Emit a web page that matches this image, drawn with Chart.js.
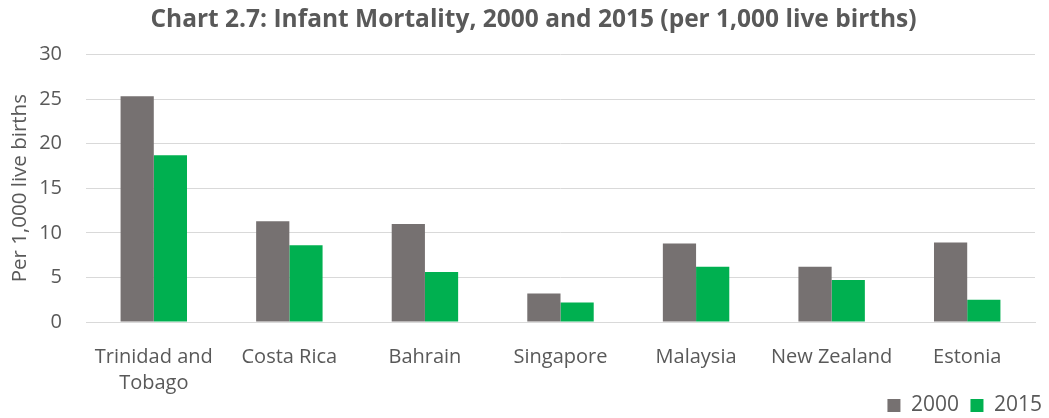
<!DOCTYPE html>
<html>
<head>
<meta charset="utf-8">
<script src="https://cdn.jsdelivr.net/npm/chart.js@4"></script>
<style>
html,body{margin:0;padding:0;background:#fff;}
#wrap{width:1049px;height:418px;}
</style>
</head>
<body>
<div id="wrap"><canvas id="c" width="1049" height="418"></canvas></div>
<script>
const categories = [["Trinidad and","Tobago"],"Costa Rica","Bahrain","Singapore","Malaysia","New Zealand","Estonia"];
const values2000 = [25.3, 11.3, 11.0, 3.2, 8.8, 6.2, 8.9];
const values2015 = [18.7, 8.6, 5.6, 2.2, 6.2, 4.7, 2.5];
const seriesNames = ["2000","2015"];
const titleText = "Chart 2.7: Infant Mortality, 2000 and 2015 (per 1,000 live births)";
const yAxisTitle = "Per 1,000 live births";

const FONT = "'Open Sans', sans-serif";
new Chart(document.getElementById('c'), {
  type: 'bar',
  data: {
    labels: categories,
    datasets: [
      {label: seriesNames[0], data: values2000, backgroundColor: '#767171', borderWidth: 0},
      {label: seriesNames[1], data: values2015, backgroundColor: '#00B050', borderWidth: 0}
    ]
  },
  options: {
    responsive: false,
    animation: false,
    layout: {padding: {left: 24, right: 6, top: 5, bottom: -8}},
    datasets: {bar: {categoryPercentage: 0.49, barPercentage: 1.0}},
    plugins: {
      title: {display: true, text: titleText, color: '#595959',
        font: {family: FONT, size: 24.5, weight: 'bold', lineHeight: 1.2}, padding: {top: 0, bottom: 20}},
      legend: {position: 'bottom', align: 'end',
        labels: {boxWidth: 13, boxHeight: 13, color: '#595959', padding: 1,
          font: {family: FONT, size: 21},
          generateLabels: (chart) => {
            const items = Chart.defaults.plugins.legend.labels.generateLabels(chart);
            items.forEach((it, i) => { if (i < items.length - 1) it.text = it.text + '\u2002'; });
            return items;
          }}},
      tooltip: {enabled: false}
    },
    scales: {
      x: {
        grid: {display: false},
        border: {display: true, color: '#d9d9d9', width: 1},
        ticks: {color: '#595959', font: {family: FONT, size: 20, lineHeight: 1.3}, maxRotation: 0, autoSkip: false, padding: 14},
        afterFit: (s) => { s.height = 72; }
      },
      y: {
        min: 0, max: 30,
        ticks: {stepSize: 5, color: '#595959', font: {family: FONT, size: 20}, padding: 24},
        grid: {color: '#d9d9d9', lineWidth: 1, drawTicks: false},
        border: {display: false},
        title: {display: true, text: yAxisTitle, color: '#595959', font: {family: FONT, size: 20.5}, padding: {top: -16, bottom: 0}},
        afterFit: (s) => { s.width = 62; }
      },
      yRightSpacer: {
        axis: 'y', position: 'right', display: true,
        ticks: {display: false}, grid: {display: false}, border: {display: false},
        afterFit: (s) => { s.width = 8; }
      }
    }
  }
});
</script>
</body>
</html>
